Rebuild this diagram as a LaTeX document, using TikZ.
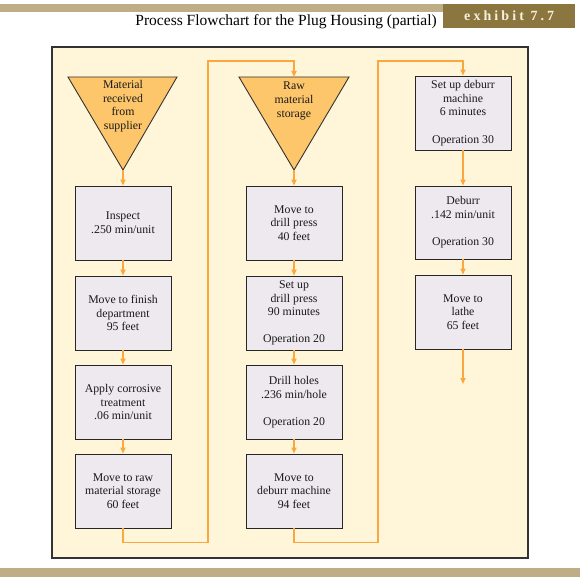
\documentclass[tikz,border=0pt]{standalone}
\usepackage{fontspec}
\setmainfont{Liberation Serif}
\usetikzlibrary{arrows.meta}
\definecolor{panelfill}{HTML}{FFF5D8}
\definecolor{boxfill}{HTML}{EEE9EE}
\definecolor{trifill}{HTML}{FDC66B}
\definecolor{flow}{HTML}{F9A73E}
\definecolor{bar}{HTML}{BFAD86}
\definecolor{exhib}{HTML}{8B7640}
\definecolor{exhibtext}{HTML}{F7F0DC}
\tikzset{
  stepbox/.style={draw=black!85, line width=0.9pt, fill=boxfill, minimum width=96pt, minimum height=74pt, inner sep=0pt,
    align=center, font=\fontsize{11.8}{13.6}\selectfont, text=black!90},
  tritext/.style={align=center, font=\fontsize{11.8}{13.6}\selectfont, text=black!90, inner sep=0pt},
  flowline/.style={draw=flow, line width=1.5pt},
  flowarrow/.style={flowline, -{Triangle[length=6pt,width=5pt]}},
}
\begin{document}
\begin{tikzpicture}[x=1pt,y=1pt]
\useasboundingbox (0,0) rectangle (580,-580);
% bars
\fill[bar] (0,-4) rectangle (443,-12);
\fill[bar] (0,-568) rectangle (580,-577);
\node[fill=exhib, minimum width=132pt, minimum height=24pt, inner sep=0pt, anchor=north west, text=exhibtext,
  font=\fontsize{14}{14}\selectfont\bfseries\addfontfeatures{LetterSpace=22}] (exh) at (443,-4) {exhibit 7.7};
\node[anchor=base east, font=\fontsize{15.5}{16}\selectfont, inner sep=0pt] (title) at (437,-26) {Process Flowchart for the Plug Housing (partial)};
% panel
\draw[draw=black!80, line width=1.1pt, fill=panelfill] (52,-47) rectangle (528,-558);
% triangles
\coordinate (t1l) at (68,-77); \coordinate (t1r) at (177,-77); \coordinate (t1a) at (123,-170);
\coordinate (t2l) at (239,-77); \coordinate (t2r) at (349,-77); \coordinate (t2a) at (294,-170);
\coordinate (t2t) at (294,-77);
\draw[draw=black!80, line width=0.9pt, fill=trifill] (t1l) -- (t1r) -- (t1a) -- cycle;
\draw[draw=black!80, line width=0.9pt, fill=trifill] (t2l) -- (t2r) -- (t2a) -- cycle;
\node[tritext] (tx1) at (123,-106) {Material\\received\\from\\supplier};
\node[tritext] (tx2) at (294,-101) {Raw\\material\\storage};
% column 1
\node[stepbox] (a1) at (123,-223) {Inspect\\.250 min/unit};
\node[stepbox] (a2) at (123,-313) {Move to finish\\department\\95 feet};
\node[stepbox] (a3) at (123,-402) {Apply corrosive\\treatment\\.06 min/unit};
\node[stepbox] (a4) at (123,-491) {Move to raw\\material storage\\60 feet};
% column 2
\node[stepbox] (b1) at (294,-223) {Move to\\drill press\\40 feet};
\node[stepbox] (b2) at (294,-313) {Set up\\drill press\\90 minutes\\[13.6pt]Operation 20};
\node[stepbox] (b3) at (294,-402) {Drill holes\\.236 min/hole\\[13.6pt]Operation 20};
\node[stepbox] (b4) at (294,-491) {Move to\\deburr machine\\94 feet};
% column 3
\node[stepbox, minimum height=74pt] (c1) at (463,-113) {Set up deburr\\machine\\6 minutes\\[13.6pt]Operation 30};
\node[stepbox, minimum height=73pt] (c2) at (463,-222.5) {Deburr\\.142 min/unit\\[13.6pt]Operation 30};
\node[stepbox] (c3) at (463,-312) {Move to\\lathe\\65 feet};
\coordinate (cend) at (463,-384);
% flows
\draw[flowarrow] (t1a) -- (a1.north);
\draw[flowarrow] (a1) -- (a2);
\draw[flowarrow] (a2) -- (a3);
\draw[flowarrow] (a3) -- (a4);
\draw[flowarrow] (a4.south) -- ++(0,-14) -| (208,-61) -| (t2t);
\draw[flowarrow] (t2a) -- (b1.north);
\draw[flowarrow] (b1) -- (b2);
\draw[flowarrow] (b2) -- (b3);
\draw[flowarrow] (b3) -- (b4);
\draw[flowarrow] (b4.south) -- ++(0,-14) -| (378,-61) -| (c1.north);
\draw[flowarrow] (c1) -- (c2);
\draw[flowarrow] (c2) -- (c3);
\draw[flowarrow] (c3) -- (cend);
\end{tikzpicture}
\end{document}
